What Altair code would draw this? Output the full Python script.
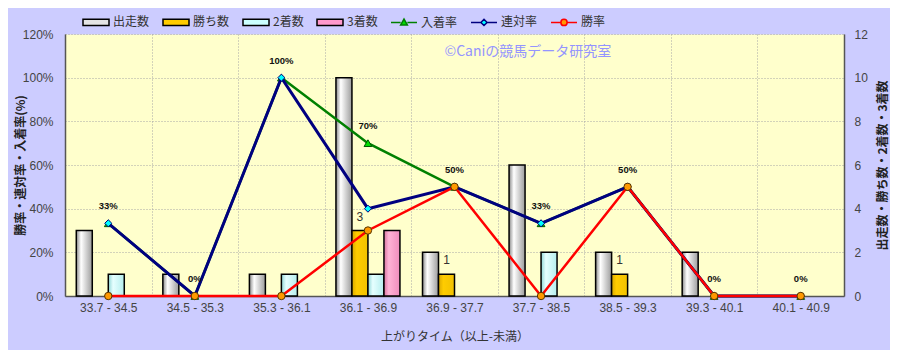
import altair as alt
import pandas as pd

# ---- data ----
categories = ["33.7 - 34.5", "34.5 - 35.3", "35.3 - 36.1", "36.1 - 36.9", "36.9 - 37.7",
              "37.7 - 38.5", "38.5 - 39.3", "39.3 - 40.1", "40.1 - 40.9"]
runs = [3, 1, 1, 10, 2, 6, 2, 2, 0]        # 出走数
wins = [0, 0, 0, 3, 1, 0, 1, 0, 0]         # 勝ち数
seconds = [1, 0, 1, 1, 0, 2, 0, 0, 0]      # 2着数
thirds = [0, 0, 0, 3, 0, 0, 0, 0, 0]       # 3着数
place_rate = [33.3, 0, 100, 70, 50, 33.3, 50, 0, 0]     # 入着率
quinella_rate = [33.3, 0, 100, 40, 50, 33.3, 50, 0, 0]  # 連対率
win_rate = [0, 0, 0, 30, 50, 0, 50, 0, 0]               # 勝率

bar_series = ["出走数", "勝ち数", "2着数", "3着数"]
line_series = ["入着率", "連対率", "勝率"]
legend_order = bar_series + line_series
note = ["©Caniの競馬データ研究室"]

bars_df = pd.DataFrame({
    "cat": categories * 4,
    "series": [s for s in bar_series for _ in categories],
    "value": runs + wins + seconds + thirds,
})
lines_df = pd.DataFrame({
    "cat": categories * 3,
    "series": [s for s in line_series for _ in categories],
    "value": place_rate + quinella_rate + win_rate,
})
legend_df = pd.DataFrame({"cat": [categories[0]] * 7, "series": legend_order, "value": [0] * 7})
note_df = pd.DataFrame({"cat": [categories[4]], "value": [111.8], "text": note})

JP = "Noto Sans CJK JP"
NUM = "Liberation Sans"
GRID = "#a6a6a6"
DASH = [1, 2]

X = alt.X("cat:N", sort=categories,
          scale=alt.Scale(domain=categories, paddingInner=0, paddingOuter=0),
          axis=alt.Axis(title="上がりタイム（以上-未満）", labelAngle=0, ticks=False, tickSize=0,
                        tickBand="extent", grid=True, gridColor=GRID, gridDash=DASH,
                        domainColor="#555555", domainWidth=1.5, labelColor="#444444",
                        labelFont=NUM, labelFontSize=12, labelPadding=6, labelOverlap=False,
                        titleFont=JP, titleFontSize=12, titleFontWeight="normal",
                        titleColor="#333333", titlePadding=18))

YR = alt.Y("value:Q", scale=alt.Scale(domain=[0, 12], nice=False),
           axis=alt.Axis(orient="right", values=[0, 2, 4, 6, 8, 10, 12], grid=False,
                         ticks=False, tickSize=0, domainColor="#555555", domainWidth=1.5,
                         labelColor="#444444", labelFont=NUM, labelFontSize=12, labelPadding=10,
                         title="出走数・勝ち数・2着数・3着数", titleAngle=270, titleX=38, titleY=131,
                         titleBaseline="middle", titleFont=JP, titleFontSize=12,
                         titleFontWeight="bold", titleColor="#222222"))

YL = alt.Y("value:Q", scale=alt.Scale(domain=[0, 120], nice=False),
           axis=alt.Axis(orient="left", values=[0, 20, 40, 60, 80, 100, 120],
                         labelExpr="datum.value + '%'", grid=True, gridColor=GRID, gridDash=DASH,
                         ticks=False, tickSize=0, domainColor="#555555", domainWidth=1.5,
                         labelColor="#444444", labelFont=NUM, labelFontSize=12, labelPadding=12,
                         title="勝率・連対率・入着率(%)", titleAngle=270, titleX=-45, titleY=131,
                         titleBaseline="middle", titleFont=JP, titleFontSize=12,
                         titleFontWeight="bold", titleColor="#222222"))

XOFF = alt.XOffset("series:N", sort=bar_series,
                   scale=alt.Scale(domain=bar_series, paddingInner=0, paddingOuter=0.705))


def grad(c0, c1, c2):
    return alt.LinearGradient(gradient="linear", x1=0, x2=1, y1=0, y2=0,
                              stops=[alt.GradientStop(color=c0, offset=0),
                                     alt.GradientStop(color=c1, offset=0.3),
                                     alt.GradientStop(color=c2, offset=1)])


bar_fills = {
    "出走数": grad("#8a8a8a", "#ffffff", "#9c9c9c"),
    "勝ち数": grad("#d9a800", "#ffcc00", "#f2c200"),
    "2着数": grad("#8fd6d6", "#e6ffff", "#b5eeee"),
    "3着数": grad("#d9739f", "#ffb3d6", "#f08cbc"),
}

bar_layers = []
for s in bar_series:
    bar_layers.append(
        alt.Chart(bars_df).transform_filter(
            f"datum.series == '{s}' && datum.value > 0"
        ).mark_bar(fill=bar_fills[s], stroke="#000000", strokeWidth=1.5).encode(
            x=X, xOffset=XOFF, y=YR)
    )
bar_text = alt.Chart(bars_df).transform_filter(
    "datum.series == '勝ち数' && datum.value > 0"
).mark_text(font=NUM, fontSize=12, color="#333333", baseline="middle", dy=-14).encode(
    x=X, xOffset=XOFF, y=YR, text=alt.Text("value:Q"))
bars = alt.layer(*bar_layers, bar_text)

line_styles = {
    "入着率": dict(line="#008000", width=2.5, shape="triangle-up", fill="#00dd00", stroke="#005500", size=60),
    "連対率": dict(line="#000080", width=3, shape="diamond", fill="#00ffff", stroke="#000080", size=50),
    "勝率": dict(line="#ff0000", width=2.5, shape="circle", fill="#ff9900", stroke="#553300", size=55),
}
line_layers = []
for s in line_series:
    st = line_styles[s]
    base = alt.Chart(lines_df).transform_filter(f"datum.series == '{s}'")
    line_layers.append(base.mark_line(color=st["line"], strokeWidth=st["width"]).encode(x=X, y=YL))
    line_layers.append(base.mark_point(shape=st["shape"], filled=True, fill=st["fill"],
                                       stroke=st["stroke"], strokeWidth=1, size=st["size"],
                                       opacity=1).encode(x=X, y=YL))

rate_text = alt.Chart(lines_df).transform_filter("datum.series == '入着率'").transform_calculate(
    label="format(datum.value, '.0f') + '%'"
).mark_text(font=NUM, fontSize=9.5, fontWeight="bold", color="#111111", baseline="middle", dy=-17).encode(
    x=X, y=YL, text="label:N")

note_text = alt.Chart(note_df).mark_text(font=JP, fontSize=14, color="#9494ff", align="left",
                                         baseline="middle", dx=-10).encode(
    x=X, y=YL, text="text:N")

LEG = alt.Legend(orient="none", legendX=17, legendY=-26, direction="horizontal", title=None,
                 symbolSize=676, symbolStrokeWidth=1.5, labelFont=JP, labelFontSize=12,
                 labelColor="#333333", labelOffset=3, columnPadding=10, symbolOpacity=1)
shape_paths = [
    "M-1,-0.24H1V0.24H-1Z",
    "M-1,-0.24H1V0.24H-1Z",
    "M-1,-0.24H1V0.24H-1Z",
    "M-1,-0.24H1V0.24H-1Z",
    "M-1,0H-0.26M0.26,0H1M-0.26,0.2L0,-0.26L0.26,0.2Z",
    "M-1,0H-0.24M0.24,0H1M-0.24,0L0,-0.24L0.24,0L0,0.24Z",
    "M-1,0H-0.24M0.24,0H1M-0.24,0A0.24,0.24 0 1,0 0.24,0A0.24,0.24 0 1,0 -0.24,0Z",
]
legend_layer = alt.Chart(legend_df).transform_filter("datum.value > 999").mark_point(filled=True).encode(
    x=X, y=YL,
    fill=alt.Fill("series:N", sort=legend_order,
                  scale=alt.Scale(domain=legend_order,
                                  range=["#e4e4e4", "#ffcc00", "#ccffff", "#ff99cc",
                                         "#00dd00", "#00ffff", "#ff9900"]), legend=LEG),
    stroke=alt.Stroke("series:N", sort=legend_order,
                      scale=alt.Scale(domain=legend_order,
                                      range=["#000000", "#000000", "#000000", "#000000",
                                             "#008000", "#000080", "#ff0000"]), legend=LEG),
    shape=alt.Shape("series:N", sort=legend_order,
                    scale=alt.Scale(domain=legend_order, range=shape_paths), legend=LEG),
)

lines = alt.layer(*line_layers, rate_text, note_text, legend_layer)

chart = alt.layer(bars, lines).resolve_scale(y="independent").properties(
    width=779, height=262,
    autosize=alt.AutoSizeParams(type="none"),
    padding={"left": 57, "top": 26, "right": 46, "bottom": 54},
).configure(background="#ccccff").configure_view(fill="#ffffcc", stroke="transparent")

chart.save("out.html", embed_options={"renderer": "svg", "actions": False})
